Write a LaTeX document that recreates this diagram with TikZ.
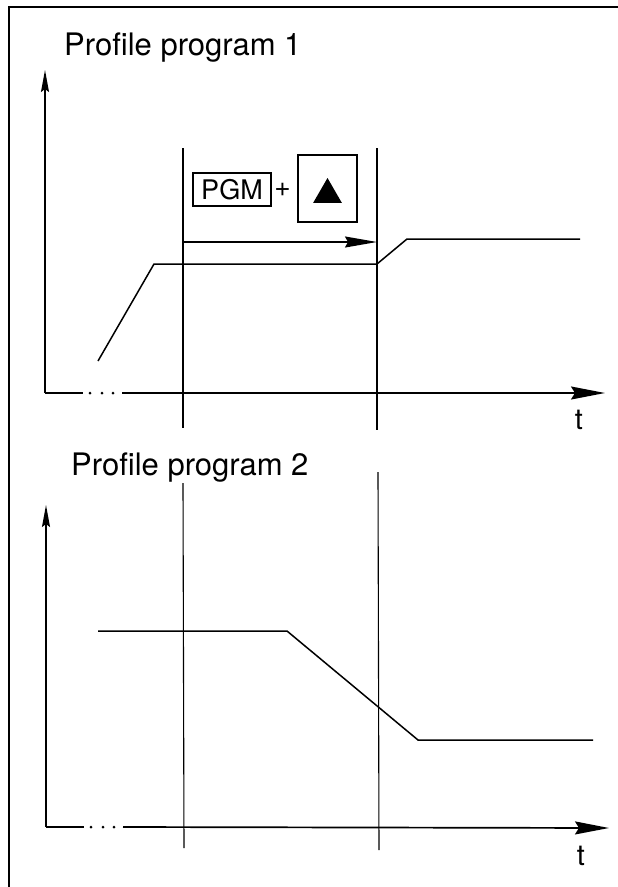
\documentclass[tikz,border=0pt]{standalone}
\usepackage{fontspec}
\setmainfont{TeX Gyre Heros}
\usetikzlibrary{shapes.geometric,arrows.meta,positioning}

\begin{document}
\begin{tikzpicture}[x=1pt,y=-1pt,
  axis/.style={line width=1.7pt},
  guide/.style={line width=1.1pt},
  profile/.style={line width=1.5pt},
  ytip/.style={-{Stealth[length=22pt,width=8pt,inset=3pt]}},
  xtip/.style={-{Stealth[length=34pt,width=13pt,inset=4pt]}},
  title/.style={anchor=base west,inner sep=0pt,font=\fontsize{31}{36}\selectfont},
  tlabel/.style={anchor=base,inner sep=0pt,font=\fontsize{29}{34}\selectfont},
  key/.style={draw,line width=1.2pt,inner sep=0pt,font=\fontsize{27}{32}\selectfont},
]
\useasboundingbox (0,0) rectangle (618,887);

% Frame
\draw[line width=1.5pt] (618,7) -- (9,7) -- (9,887);

% ---------------- Profile program 1 ----------------
\node[title] (title1) at (64,55) {Profile program 1};

% Axes
\coordinate (o1) at (45,393);
\draw[axis,ytip] (o1) -- (45,70);
\draw[axis] (o1) -- (83,393);
\foreach \x in {90,102,113} \fill (\x,393) circle (1.5pt);
\draw[axis,xtip] (122,393) -- (605,393);
\node[tlabel] (t1) at (579,429) {t};

% Time marks
\draw[guide] (183,148) coordinate (m1) -- (183,428);
\draw[guide] (377,148) coordinate (m2) -- (377,430);

% Key combination
\node[key,minimum width=78pt,minimum height=33pt] (pgm) at (232,189.5) {PGM};
\node[font=\fontsize{28}{32}\selectfont,inner sep=0pt] (plus) at (282.5,190) {+};
\node[key,minimum width=59pt,minimum height=67pt] (up) at (327.5,188.5) {};
\node[regular polygon,regular polygon sides=3,fill=black,inner sep=0pt,
      outer sep=0pt,minimum size=33pt] (tri) at ([yshift=-6pt]up.center) {};

% Duration arrow
\coordinate (a1) at (183,242);
\coordinate (a2) at (377,242);
\draw[profile,-{Stealth[length=32pt,width=11pt,inset=3pt]}] (a1) -- (a2);

% Profile
\draw[profile] (98,361) -- (154,264) -- (377,264) -- (407,239) -- (580,239);

% ---------------- Profile program 2 ----------------
\node[title] (title2) at (71,475) {Profile program 2};

% Axes
\coordinate (o2) at (46,827);
\draw[axis,ytip] (o2) -- (46,505);
\draw[axis] (o2) -- (84,827);
\foreach \x in {91,103,114} \fill (\x,827) circle (1.5pt);
\draw[axis,xtip] (123,827) -- (609,828);
\node[tlabel] (t2) at (581,865) {t};

% Time marks
\draw[guide] (183,483) -- (184,848);
\draw[guide] (378,472) -- (379,850);

% Profile
\draw[profile] (98,631) -- (287,631) -- (418,740) -- (593,740);

\end{tikzpicture}
\end{document}
